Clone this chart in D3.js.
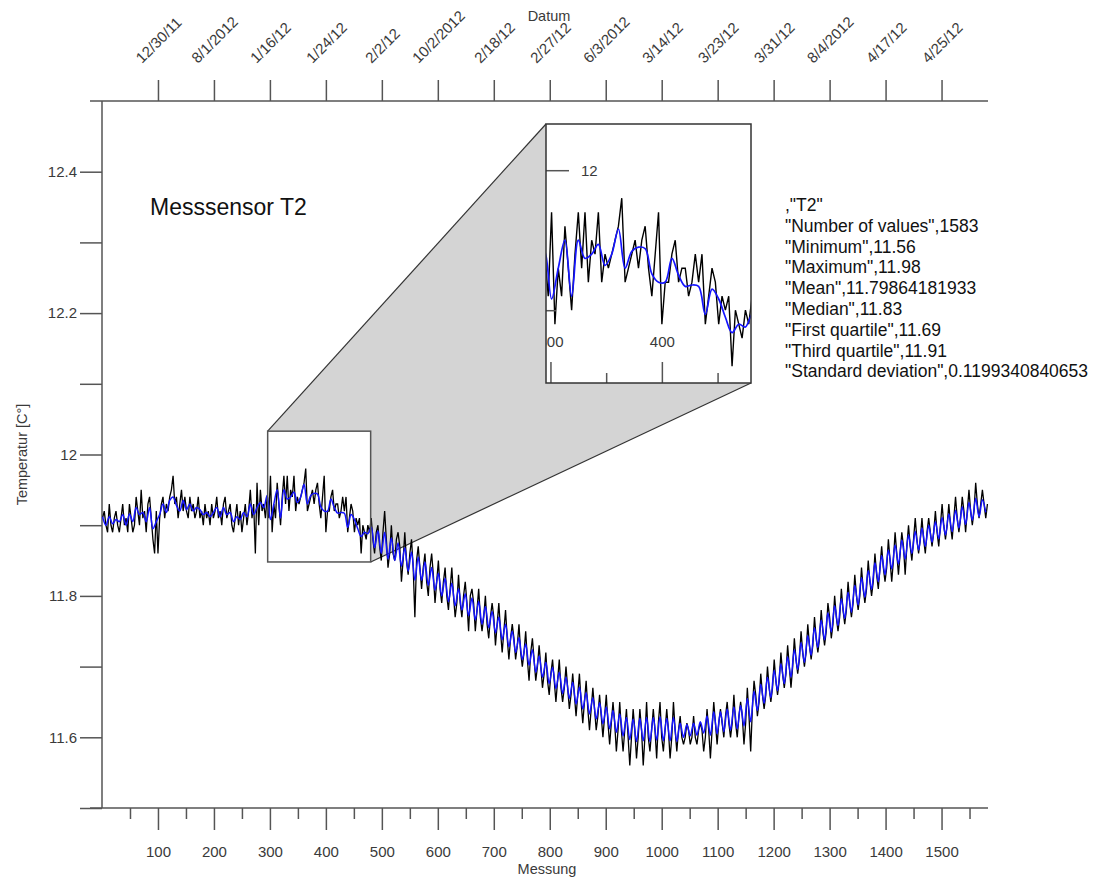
<!DOCTYPE html>
<html>
<head>
<meta charset="utf-8">
<title>Messsensor T2</title>
<script src="https://d3js.org/d3.v7.min.js"></script>
<style>
  body { margin: 0; background: #fff; }
  svg text { font-family: "Liberation Sans", Arial, sans-serif; }
</style>
</head>
<body>
<script>
// Messwerte T2, jede 3. Messung ab Messung 1
const rawStep = 3;
const rawT2 = [
  11.91,11.92,11.90,11.89, 11.93,11.90,11.89,11.91, 11.92,11.90,11.89,11.91, 11.93,11.90,11.91,11.89,
  11.93,11.91,11.89,11.90, 11.94,11.92,11.90,11.95, 11.91,11.92,11.89,11.93, 11.94,11.91,11.88,11.86,
  11.92,11.86,11.91,11.93, 11.94,11.91,11.93,11.92, 11.94,11.95,11.97,11.93, 11.94,11.91,11.93,11.95,
  11.92,11.94,11.92,11.91, 11.94,11.92,11.93,11.91, 11.92,11.94,11.91,11.92, 11.90,11.93,11.91,11.92,
  11.90,11.93,11.91,11.92, 11.94,11.91,11.92,11.90, 11.93,11.94,11.91,11.92, 11.93,11.90,11.89,11.91,
  11.93,11.90,11.92,11.89, 11.91,11.93,11.90,11.92, 11.95,11.91,11.93,11.86, 11.96,11.90,11.95,11.92,
  11.93,11.91,11.94,11.91, 11.97,11.89,11.93,11.91, 11.96,11.93,11.90,11.94, 11.97,11.93,11.97,11.92,
  11.95,11.94,11.97,11.92, 11.94,11.93,11.94,11.95, 11.96,11.98,11.92,11.93, 11.94,11.95,11.93,11.95,
  11.96,11.93,11.91,11.94, 11.97,11.89,11.92,11.92, 11.94,11.95,11.92,11.93, 11.93,11.91,11.92,11.94,
  11.92,11.94,11.89,11.91, 11.93,11.92,11.89,11.91, 11.90,11.91,11.86,11.90, 11.89,11.88,11.90,11.89,
  11.91,11.88,11.86,11.89, 11.90,11.87,11.85,11.89, 11.92,11.88,11.84,11.86, 11.90,11.86,11.85,11.88,
  11.89,11.87,11.82,11.85, 11.89,11.85,11.83,11.86, 11.88,11.84,11.77,11.85, 11.87,11.84,11.81,11.84,
  11.86,11.82,11.80,11.84, 11.86,11.83,11.79,11.82, 11.85,11.81,11.79,11.82, 11.84,11.80,11.78,11.81,
  11.84,11.80,11.77,11.79, 11.83,11.79,11.77,11.80, 11.82,11.79,11.75,11.80, 11.81,11.79,11.75,11.78,
  11.81,11.77,11.75,11.77, 11.80,11.76,11.74,11.77, 11.79,11.77,11.73,11.76, 11.79,11.75,11.72,11.75,
  11.78,11.74,11.71,11.74, 11.76,11.74,11.71,11.73, 11.76,11.72,11.70,11.72, 11.75,11.71,11.68,11.72,
  11.74,11.71,11.68,11.70, 11.73,11.70,11.67,11.69, 11.72,11.68,11.66,11.69, 11.71,11.68,11.65,11.68,
  11.71,11.67,11.65,11.67, 11.70,11.67,11.64,11.66, 11.69,11.66,11.63,11.66, 11.69,11.65,11.62,11.65,
  11.68,11.64,11.61,11.64, 11.67,11.64,11.61,11.63, 11.66,11.63,11.60,11.63, 11.66,11.62,11.59,11.62,
  11.65,11.62,11.58,11.61, 11.65,11.61,11.58,11.61, 11.64,11.60,11.56,11.60, 11.64,11.61,11.57,11.60,
  11.64,11.61,11.56,11.60, 11.65,11.60,11.58,11.61, 11.64,11.61,11.57,11.62, 11.65,11.60,11.58,11.61,
  11.64,11.61,11.57,11.60, 11.65,11.61,11.58,11.61, 11.63,11.60,11.59,11.60, 11.62,11.61,11.59,11.60,
  11.63,11.60,11.59,11.61, 11.62,11.61,11.58,11.60, 11.64,11.61,11.57,11.61, 11.65,11.62,11.59,11.62,
  11.64,11.62,11.60,11.63, 11.65,11.62,11.60,11.62, 11.66,11.62,11.60,11.63, 11.65,11.63,11.59,11.62,
  11.67,11.63,11.58,11.64, 11.68,11.66,11.63,11.65, 11.69,11.66,11.64,11.66, 11.70,11.67,11.65,11.67,
  11.71,11.68,11.66,11.68, 11.72,11.69,11.67,11.69, 11.73,11.70,11.67,11.70, 11.74,11.71,11.69,11.71,
  11.75,11.72,11.70,11.72, 11.76,11.73,11.71,11.73, 11.77,11.74,11.72,11.74, 11.78,11.75,11.73,11.75,
  11.79,11.77,11.74,11.76, 11.80,11.77,11.75,11.77, 11.81,11.78,11.76,11.78, 11.82,11.79,11.77,11.79,
  11.83,11.80,11.78,11.80, 11.84,11.81,11.79,11.81, 11.85,11.82,11.80,11.82, 11.86,11.83,11.81,11.84,
  11.87,11.84,11.82,11.84, 11.88,11.85,11.82,11.85, 11.89,11.86,11.83,11.86, 11.89,11.87,11.83,11.87,
  11.90,11.87,11.85,11.88, 11.91,11.88,11.86,11.88, 11.91,11.88,11.86,11.89, 11.91,11.89,11.87,11.89,
  11.92,11.89,11.87,11.90, 11.93,11.90,11.88,11.90, 11.93,11.90,11.88,11.91, 11.94,11.91,11.89,11.91,
  11.94,11.92,11.89,11.92, 11.95,11.92,11.90,11.92, 11.96,11.93,11.91,11.93, 11.95,11.93,11.91,11.93
];

// geglaettete Kurve (blau), jede 6. Messung ab Messung 1
const smoothStep = 6;
const smoothT2 = [
  11.912,11.900, 11.912,11.902, 11.908,11.905, 11.915,11.900, 11.916,11.905, 11.925,11.915,
  11.918,11.905, 11.925,11.895, 11.905,11.915, 11.930,11.918, 11.935,11.940, 11.928,11.920,
  11.935,11.922, 11.930,11.920, 11.925,11.922, 11.915,11.918, 11.912,11.918, 11.925,11.912,
  11.925,11.915, 11.918,11.905, 11.912,11.908, 11.918,11.912, 11.930,11.915, 11.925,11.932,
  11.925,11.942, 11.908,11.930, 11.950,11.910, 11.950,11.937, 11.940,11.947, 11.932,11.940,
  11.958,11.930, 11.942,11.945, 11.944,11.926, 11.920,11.920, 11.937,11.925, 11.917,11.918,
  11.917,11.897, 11.915,11.908, 11.895,11.884, 11.890,11.888,
  11.897,11.868, 11.892,11.860, 11.890,11.852, 11.882,11.850, 11.875,11.842, 11.868,11.835,
  11.862,11.822, 11.855,11.822, 11.848,11.815, 11.840,11.808, 11.832,11.800, 11.825,11.792,
  11.818,11.786, 11.810,11.780, 11.803,11.772, 11.797,11.766, 11.792,11.760, 11.785,11.755,
  11.778,11.748, 11.770,11.738, 11.760,11.728, 11.750,11.720, 11.741,11.710, 11.732,11.702,
  11.724,11.692, 11.715,11.685, 11.706,11.676, 11.699,11.669, 11.692,11.662, 11.685,11.655,
  11.678,11.647, 11.671,11.640, 11.663,11.633, 11.656,11.626, 11.649,11.619, 11.643,11.612,
  11.638,11.607, 11.633,11.602, 11.628,11.597, 11.626,11.594, 11.627,11.595, 11.628,11.594,
  11.628,11.596, 11.629,11.595, 11.627,11.595, 11.628,11.594, 11.620,11.600, 11.618,11.602,
  11.620,11.603, 11.622,11.606, 11.630,11.603, 11.636,11.605, 11.636,11.608, 11.640,11.610,
  11.643,11.612, 11.645,11.616, 11.655,11.622, 11.665,11.638, 11.675,11.648, 11.685,11.656,
  11.695,11.666, 11.704,11.676, 11.714,11.685, 11.724,11.696, 11.734,11.706, 11.744,11.716,
  11.755,11.727, 11.766,11.738, 11.776,11.749, 11.786,11.758, 11.796,11.768, 11.805,11.777,
  11.815,11.787, 11.826,11.798, 11.836,11.809, 11.847,11.820, 11.857,11.830, 11.865,11.838,
  11.872,11.845, 11.879,11.852, 11.886,11.860, 11.891,11.865, 11.896,11.870, 11.900,11.876,
  11.905,11.881, 11.911,11.886, 11.916,11.891, 11.921,11.896, 11.926,11.901, 11.932,11.907,
  11.938,11.912, 11.936,11.918
];

const messungTicks = [100, 200, 300, 400, 500, 600, 700, 800, 900, 1000, 1100, 1200, 1300, 1400, 1500];
const messungMinor = [50, 150, 250, 350, 450, 550, 650, 750, 850, 950, 1050, 1150, 1250, 1350, 1450, 1550];
const datumLabels = ['12/30/11', '8/1/2012', '1/16/12', '1/24/12', '2/2/12', '10/2/2012', '2/18/12', '2/27/12',
  '6/3/2012', '3/14/12', '3/23/12', '3/31/12', '8/4/2012', '4/17/12', '4/25/12'];
const tempTicks = [11.6, 11.8, 12, 12.2, 12.4];
const tempMinor = [11.5, 11.7, 11.9, 12.1, 12.3];
const statsLines = [',"T2"', '"Number of values",1583', '"Minimum",11.56', '"Maximum",11.98',
  '"Mean",11.79864181933', '"Median",11.83', '"First quartile",11.69', '"Third quartile",11.91',
  '"Standard deviation",0.1199340840653'];

// Ausschnitt fuer die Lupe
const zoomX = [296, 480];
const zoomY = [11.848, 12.033];

const width = 1115, height = 877;
const axisColor = '#555', labelColor = '#3a3a3a';

const svg = d3.select('body').append('svg')
  .attr('width', width).attr('height', height)
  .style('background', '#fff');

const x = d3.scaleLinear().domain([0, 1583]).range([102, 988]);
const y = d3.scaleLinear().domain([11.5, 12.5]).range([808, 101]);

const xi = d3.scaleLinear().domain(zoomX).range([546, 751]);
const yi = d3.scaleLinear().domain(zoomY).range([383, 124]);

const rawPts = rawT2.map((v, i) => [1 + i * rawStep, v]);
const smoothPts = smoothT2.map((v, i) => [1 + i * smoothStep, v]);

function styleAxis(g, fs) {
  g.select('.domain').remove();
  g.selectAll('.tick line').attr('stroke', axisColor).attr('stroke-width', 1.5);
  g.selectAll('.tick text').attr('fill', labelColor).style('font-size', fs + 'px');
}

// graue Verbindungsflaeche zwischen Ausschnitt und Lupe
const bx0 = x(zoomX[0]), bx1 = x(zoomX[1]), by0 = y(zoomY[1]), by1 = y(zoomY[0]);
const ix0 = xi.range()[0], ix1 = xi.range()[1], iy0 = yi.range()[1], iy1 = yi.range()[0];
svg.append('path')
  .attr('d', d3.line()([[bx0, by0], [ix0, iy0], [ix1, iy0], [ix1, iy1], [bx1, by1], [bx0, by1]]) + 'Z')
  .attr('fill', '#d4d4d4');
svg.append('line').attr('x1', bx0).attr('y1', by0).attr('x2', ix0).attr('y2', iy0)
  .attr('stroke', '#333').attr('stroke-width', 1.2);
svg.append('line').attr('x1', bx1).attr('y1', by1).attr('x2', ix1).attr('y2', iy1)
  .attr('stroke', '#333').attr('stroke-width', 1.2);
svg.append('rect').attr('x', bx0).attr('y', by0).attr('width', bx1 - bx0).attr('height', by1 - by0)
  .attr('fill', '#fff');

// Achsen
const axBottom = svg.append('g').attr('transform', `translate(0,${y.range()[0]})`);
axBottom.call(d3.axisBottom(x).tickValues(messungTicks).tickSize(22).tickPadding(16).tickFormat(d3.format('d')));
styleAxis(axBottom, 15);
const axBottomMinor = svg.append('g').attr('transform', `translate(0,${y.range()[0]})`);
axBottomMinor.call(d3.axisBottom(x).tickValues(messungMinor).tickSize(11).tickFormat(''));
styleAxis(axBottomMinor, 15);

const axLeft = svg.append('g').attr('transform', `translate(${x.range()[0]},0)`);
axLeft.call(d3.axisLeft(y).tickValues(tempTicks).tickSize(22).tickPadding(3).tickFormat(d => String(+d.toFixed(1))));
styleAxis(axLeft, 15);
const axLeftMinor = svg.append('g').attr('transform', `translate(${x.range()[0]},0)`);
axLeftMinor.call(d3.axisLeft(y).tickValues(tempMinor).tickSize(22).tickFormat(''));
styleAxis(axLeftMinor, 15);

const axTop = svg.append('g').attr('transform', `translate(0,${y.range()[1]})`);
axTop.call(d3.axisTop(x).tickValues(messungTicks).tickSize(21).tickFormat((d, i) => datumLabels[i]));
styleAxis(axTop, 15);
// gedrehte Datumsbeschriftung, Boxunterkante bei y = 63
axTop.selectAll('.tick text')
  .attr('y', null).attr('dy', null)
  .attr('text-anchor', 'middle').attr('dominant-baseline', 'central')
  .attr('transform', function () {
    const L = this.getComputedTextLength();
    const h = 15 * 0.72;
    const cy = 64 - (L + h) * 0.3536 - y.range()[1];
    return `translate(0,${cy}) rotate(-45)`;
  });

// Achsenlinien
svg.append('line').attr('x1', 90).attr('x2', x.range()[1]).attr('y1', y.range()[0]).attr('y2', y.range()[0])
  .attr('stroke', axisColor).attr('stroke-width', 1.5);
svg.append('line').attr('x1', 90).attr('x2', x.range()[1]).attr('y1', y.range()[1]).attr('y2', y.range()[1])
  .attr('stroke', axisColor).attr('stroke-width', 1.5);
svg.append('line').attr('x1', x.range()[0]).attr('x2', x.range()[0]).attr('y1', y.range()[1]).attr('y2', y.range()[0])
  .attr('stroke', axisColor).attr('stroke-width', 1.5);

// Achsentitel
svg.append('text').attr('x', 547).attr('y', 874).attr('text-anchor', 'middle')
  .style('font-size', '14.5px').attr('fill', labelColor).text('Messung');
svg.append('text').attr('x', 549).attr('y', 21).attr('text-anchor', 'middle')
  .style('font-size', '14.5px').attr('fill', labelColor).text('Datum');
svg.append('text').attr('transform', `translate(27,${(y.range()[0] + y.range()[1]) / 2}) rotate(-90)`)
  .attr('text-anchor', 'middle').style('font-size', '14.5px').attr('fill', labelColor).text('Temperatur [C°]');

// Messkurven
const lineMain = d3.line().x(d => x(d[0])).y(d => y(d[1]));
const smoothMain = d3.line().x(d => x(d[0])).y(d => y(d[1])).curve(d3.curveCatmullRom.alpha(0.5));
svg.append('path').attr('d', lineMain(rawPts)).attr('fill', 'none').attr('stroke', '#000').attr('stroke-width', 1.3);
svg.append('path').attr('d', smoothMain(smoothPts)).attr('fill', 'none').attr('stroke', '#1414ff').attr('stroke-width', 1.5);

// Rahmen des Ausschnitts
svg.append('rect').attr('x', bx0).attr('y', by0).attr('width', bx1 - bx0).attr('height', by1 - by0)
  .attr('fill', 'none').attr('stroke', axisColor).attr('stroke-width', 1.5);

// Lupe
svg.append('defs').append('clipPath').attr('id', 'insetClip')
  .append('rect').attr('x', ix0).attr('y', iy0).attr('width', ix1 - ix0).attr('height', iy1 - iy0);
svg.append('rect').attr('x', ix0).attr('y', iy0).attr('width', ix1 - ix0).attr('height', iy1 - iy0).attr('fill', '#fff');
const inset = svg.append('g').attr('clip-path', 'url(#insetClip)');
const lineInset = d3.line().x(d => xi(d[0])).y(d => yi(d[1]));
const smoothInset = d3.line().x(d => xi(d[0])).y(d => yi(d[1])).curve(d3.curveCatmullRom.alpha(0.5));
inset.append('path').attr('d', lineInset(rawPts)).attr('fill', 'none').attr('stroke', '#000').attr('stroke-width', 1.4);
inset.append('path').attr('d', smoothInset(smoothPts)).attr('fill', 'none').attr('stroke', '#1414ff').attr('stroke-width', 1.7);

const iBottom = inset.append('g').attr('transform', `translate(0,${iy1})`);
iBottom.call(d3.axisTop(xi).tickValues([300, 400]).tickSize(21).tickPadding(15).tickFormat(d3.format('d')));
styleAxis(iBottom, 15);
const iBottomMinor = inset.append('g').attr('transform', `translate(0,${iy1})`);
iBottomMinor.call(d3.axisTop(xi).tickValues([350, 450]).tickSize(10).tickFormat(''));
styleAxis(iBottomMinor, 15);
const iLeft = inset.append('g').attr('transform', `translate(${ix0},0)`);
iLeft.call(d3.axisRight(yi).tickValues([12]).tickSize(23).tickPadding(12).tickFormat(d3.format('d')));
styleAxis(iLeft, 15);
const iLeftMinor = inset.append('g').attr('transform', `translate(${ix0},0)`);
iLeftMinor.call(d3.axisRight(yi).tickValues([11.9]).tickSize(10).tickFormat(''));
styleAxis(iLeftMinor, 15);

svg.append('rect').attr('x', ix0).attr('y', iy0).attr('width', ix1 - ix0).attr('height', iy1 - iy0)
  .attr('fill', 'none').attr('stroke', '#333').attr('stroke-width', 1.5);

// Beschriftung
svg.append('text').attr('x', 150).attr('y', 215).style('font-size', '23px').attr('fill', '#111').text('Messsensor T2');

svg.append('g').selectAll('text').data(statsLines).join('text')
  .attr('x', 785).attr('y', (d, i) => 211 + i * 20.8)
  .style('font-size', '17.5px').attr('fill', '#111')
  .text(d => d);
</script>
</body>
</html>
